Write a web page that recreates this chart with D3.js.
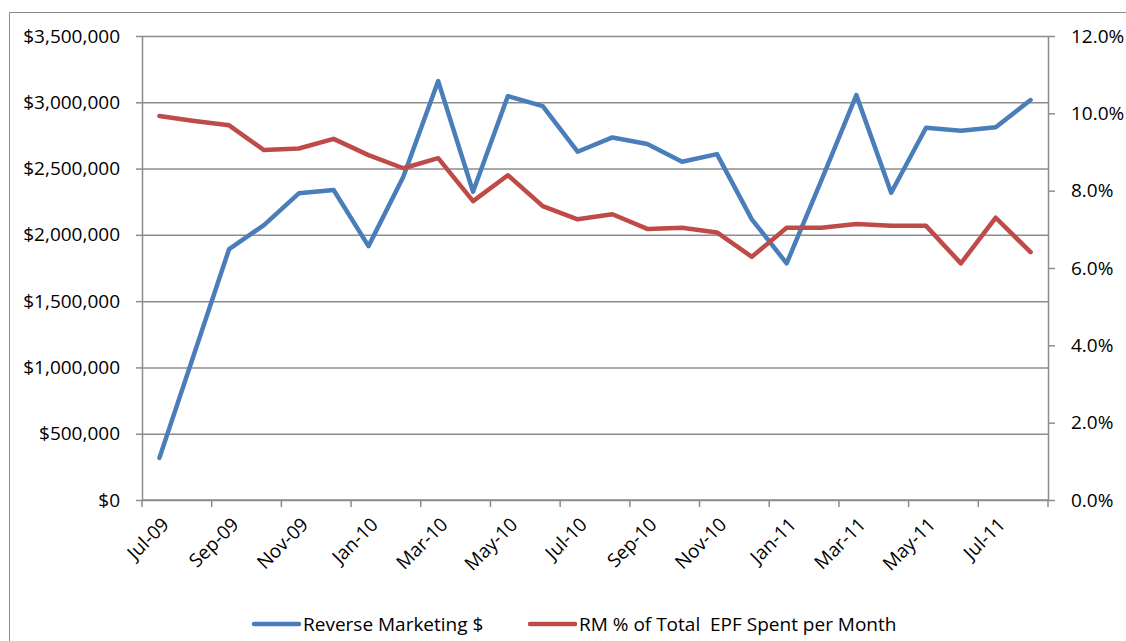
<!DOCTYPE html>
<html>
<head>
<meta charset="utf-8">
<script src="https://cdn.jsdelivr.net/npm/d3@7"></script>
<style>
  html, body { margin: 0; padding: 0; background: #fff; }
  svg { display: block; font-family: "Open Sans", sans-serif; }
</style>
</head>
<body>
<div id="chart"></div>
<script>
'use strict';

const W = 1126, H = 641;
const MARGIN = { top: 36, right: 78, bottom: 141, left: 142 };
const FONT = '"Open Sans", sans-serif';
const FS = 19;

const months = ['Jul-09','Aug-09','Sep-09','Oct-09','Nov-09','Dec-09','Jan-10','Feb-10','Mar-10','Apr-10','May-10','Jun-10','Jul-10',
                'Aug-10','Sep-10','Oct-10','Nov-10','Dec-10','Jan-11','Feb-11','Mar-11','Apr-11','May-11','Jun-11','Jul-11','Aug-11'];
const rmDollars = [318000, 1105000, 1893000, 2074000, 2313000, 2338000, 1915000, 2438000, 3160000, 2325000, 3047000, 2971000, 2627000,
                   2735000, 2685000, 2551000, 2609000, 2117000, 1785000, 2413000, 3054000, 2318000, 2808000, 2785000, 2811000, 3017000];
const rmPct = [0.0993, 0.0980, 0.0969, 0.0905, 0.0909, 0.0934, 0.0892, 0.0858, 0.0884, 0.0773, 0.0840, 0.0760, 0.0726,
               0.0739, 0.0701, 0.0704, 0.0692, 0.0629, 0.0704, 0.0704, 0.0714, 0.0709, 0.0709, 0.0612, 0.0730, 0.0641];
const leftTicks = [0, 500000, 1000000, 1500000, 2000000, 2500000, 3000000, 3500000];
const rightTicks = [0, 0.02, 0.04, 0.06, 0.08, 0.10, 0.12];
const seriesNames = ['Reverse Marketing $', 'RM % of Total  EPF Spent per Month'];

const BLUE = '#4a7ebb', RED = '#be4b48', GRID = '#8c8c8c';

const w = W - MARGIN.left - MARGIN.right;
const h = H - MARGIN.top - MARGIN.bottom;

const svg = d3.select('#chart').append('svg').attr('width', W).attr('height', H);

// outer chart frame (cropped on the right/bottom like the source)
svg.append('rect')
  .attr('x', 9.5).attr('y', 12.5).attr('width', 1140).attr('height', 660)
  .attr('fill', 'none').attr('stroke', '#8c8c8c').attr('stroke-width', 1);

const g = svg.append('g').attr('transform', `translate(${MARGIN.left},${MARGIN.top})`);

const x = d3.scaleBand().domain(months).range([0, w]).paddingInner(0).paddingOuter(0);
const cx = m => x(m) + x.bandwidth() / 2;
const yL = d3.scaleLinear().domain([0, 3500000]).range([h, 0]);
const yR = d3.scaleLinear().domain([0, 0.12]).range([h, 0]);

// gridlines
g.append('g')
  .call(d3.axisLeft(yL).tickValues(leftTicks).tickSize(-w).tickFormat(''))
  .call(a => a.select('.domain').remove())
  .call(a => a.selectAll('line').attr('stroke', GRID).attr('stroke-width', 1.5));

// left axis
g.append('g')
  .call(d3.axisLeft(yL).tickValues(leftTicks).tickSize(6).tickPadding(16).tickSizeOuter(0)
    .tickFormat(d => '$' + d3.format(',')(d)))
  .call(a => a.select('.domain').attr('stroke', GRID).attr('stroke-width', 1.5))
  .call(a => a.selectAll('line').attr('stroke', GRID).attr('stroke-width', 1.5))
  .call(a => a.selectAll('text').attr('font-size', FS).attr('fill', '#000').attr('font-family', FONT));

// right axis
g.append('g')
  .attr('transform', `translate(${w},0)`)
  .call(d3.axisRight(yR).tickValues(rightTicks).tickSize(7).tickPadding(16).tickSizeOuter(0)
    .tickFormat(d3.format('.1%')))
  .call(a => a.select('.domain').attr('stroke', GRID).attr('stroke-width', 1.5))
  .call(a => a.selectAll('line').attr('stroke', GRID).attr('stroke-width', 1.5))
  .call(a => a.selectAll('text').attr('font-size', FS).attr('fill', '#000').attr('font-family', FONT));

// x axis: ticks on category boundaries every 2 months, labels at category centers
const xAxisG = g.append('g').attr('transform', `translate(0,${h})`);
xAxisG.append('line').attr('x1', 0).attr('x2', w).attr('stroke', GRID).attr('stroke-width', 1.5);
const boundaries = d3.range(0, months.length + 1, 2);
xAxisG.selectAll('.xt').data(boundaries).join('line')
  .attr('x1', i => i < months.length ? x(months[i]) : w)
  .attr('x2', i => i < months.length ? x(months[i]) : w)
  .attr('y1', 0).attr('y2', 7)
  .attr('stroke', GRID).attr('stroke-width', 1.5);
const labelMonths = months.filter((m, i) => i % 2 === 0);
xAxisG.selectAll('.xl').data(labelMonths).join('text')
  .attr('transform', m => `translate(${cx(m) + 6},${21}) rotate(-45)`)
  .attr('text-anchor', 'end')
  .attr('dy', '0.35em')
  .attr('font-size', FS)
  .attr('fill', '#000')
  .text(m => m);

// lines
const lineL = d3.line().x((d, i) => cx(months[i])).y(d => yL(d));
const lineR = d3.line().x((d, i) => cx(months[i])).y(d => yR(d));

g.append('path').datum(rmDollars)
  .attr('d', lineL).attr('fill', 'none').attr('stroke', BLUE)
  .attr('stroke-width', 4.5).attr('stroke-linejoin', 'round').attr('stroke-linecap', 'round');

g.append('path').datum(rmPct)
  .attr('d', lineR).attr('fill', 'none').attr('stroke', RED)
  .attr('stroke-width', 4.5).attr('stroke-linejoin', 'round').attr('stroke-linecap', 'round');

// legend
const legend = svg.append('g').attr('transform', 'translate(254,624)');
const legendItems = [
  { name: seriesNames[0], color: BLUE, x: 0 },
  { name: seriesNames[1], color: RED, x: 276 },
];
legendItems.forEach(it => {
  const row = legend.append('g').attr('transform', `translate(${it.x},0)`);
  row.append('line').attr('x1', 0).attr('x2', 45).attr('y1', 0).attr('y2', 0)
    .attr('stroke', it.color).attr('stroke-width', 4.5).attr('stroke-linecap', 'round');
  row.append('text').attr('x', 49).attr('y', 0).attr('dy', '0.35em')
    .attr('font-size', FS).attr('fill', '#000')
    .attr('xml:space', 'preserve').style('white-space', 'pre')
    .text(it.name);
});
</script>
</body>
</html>
